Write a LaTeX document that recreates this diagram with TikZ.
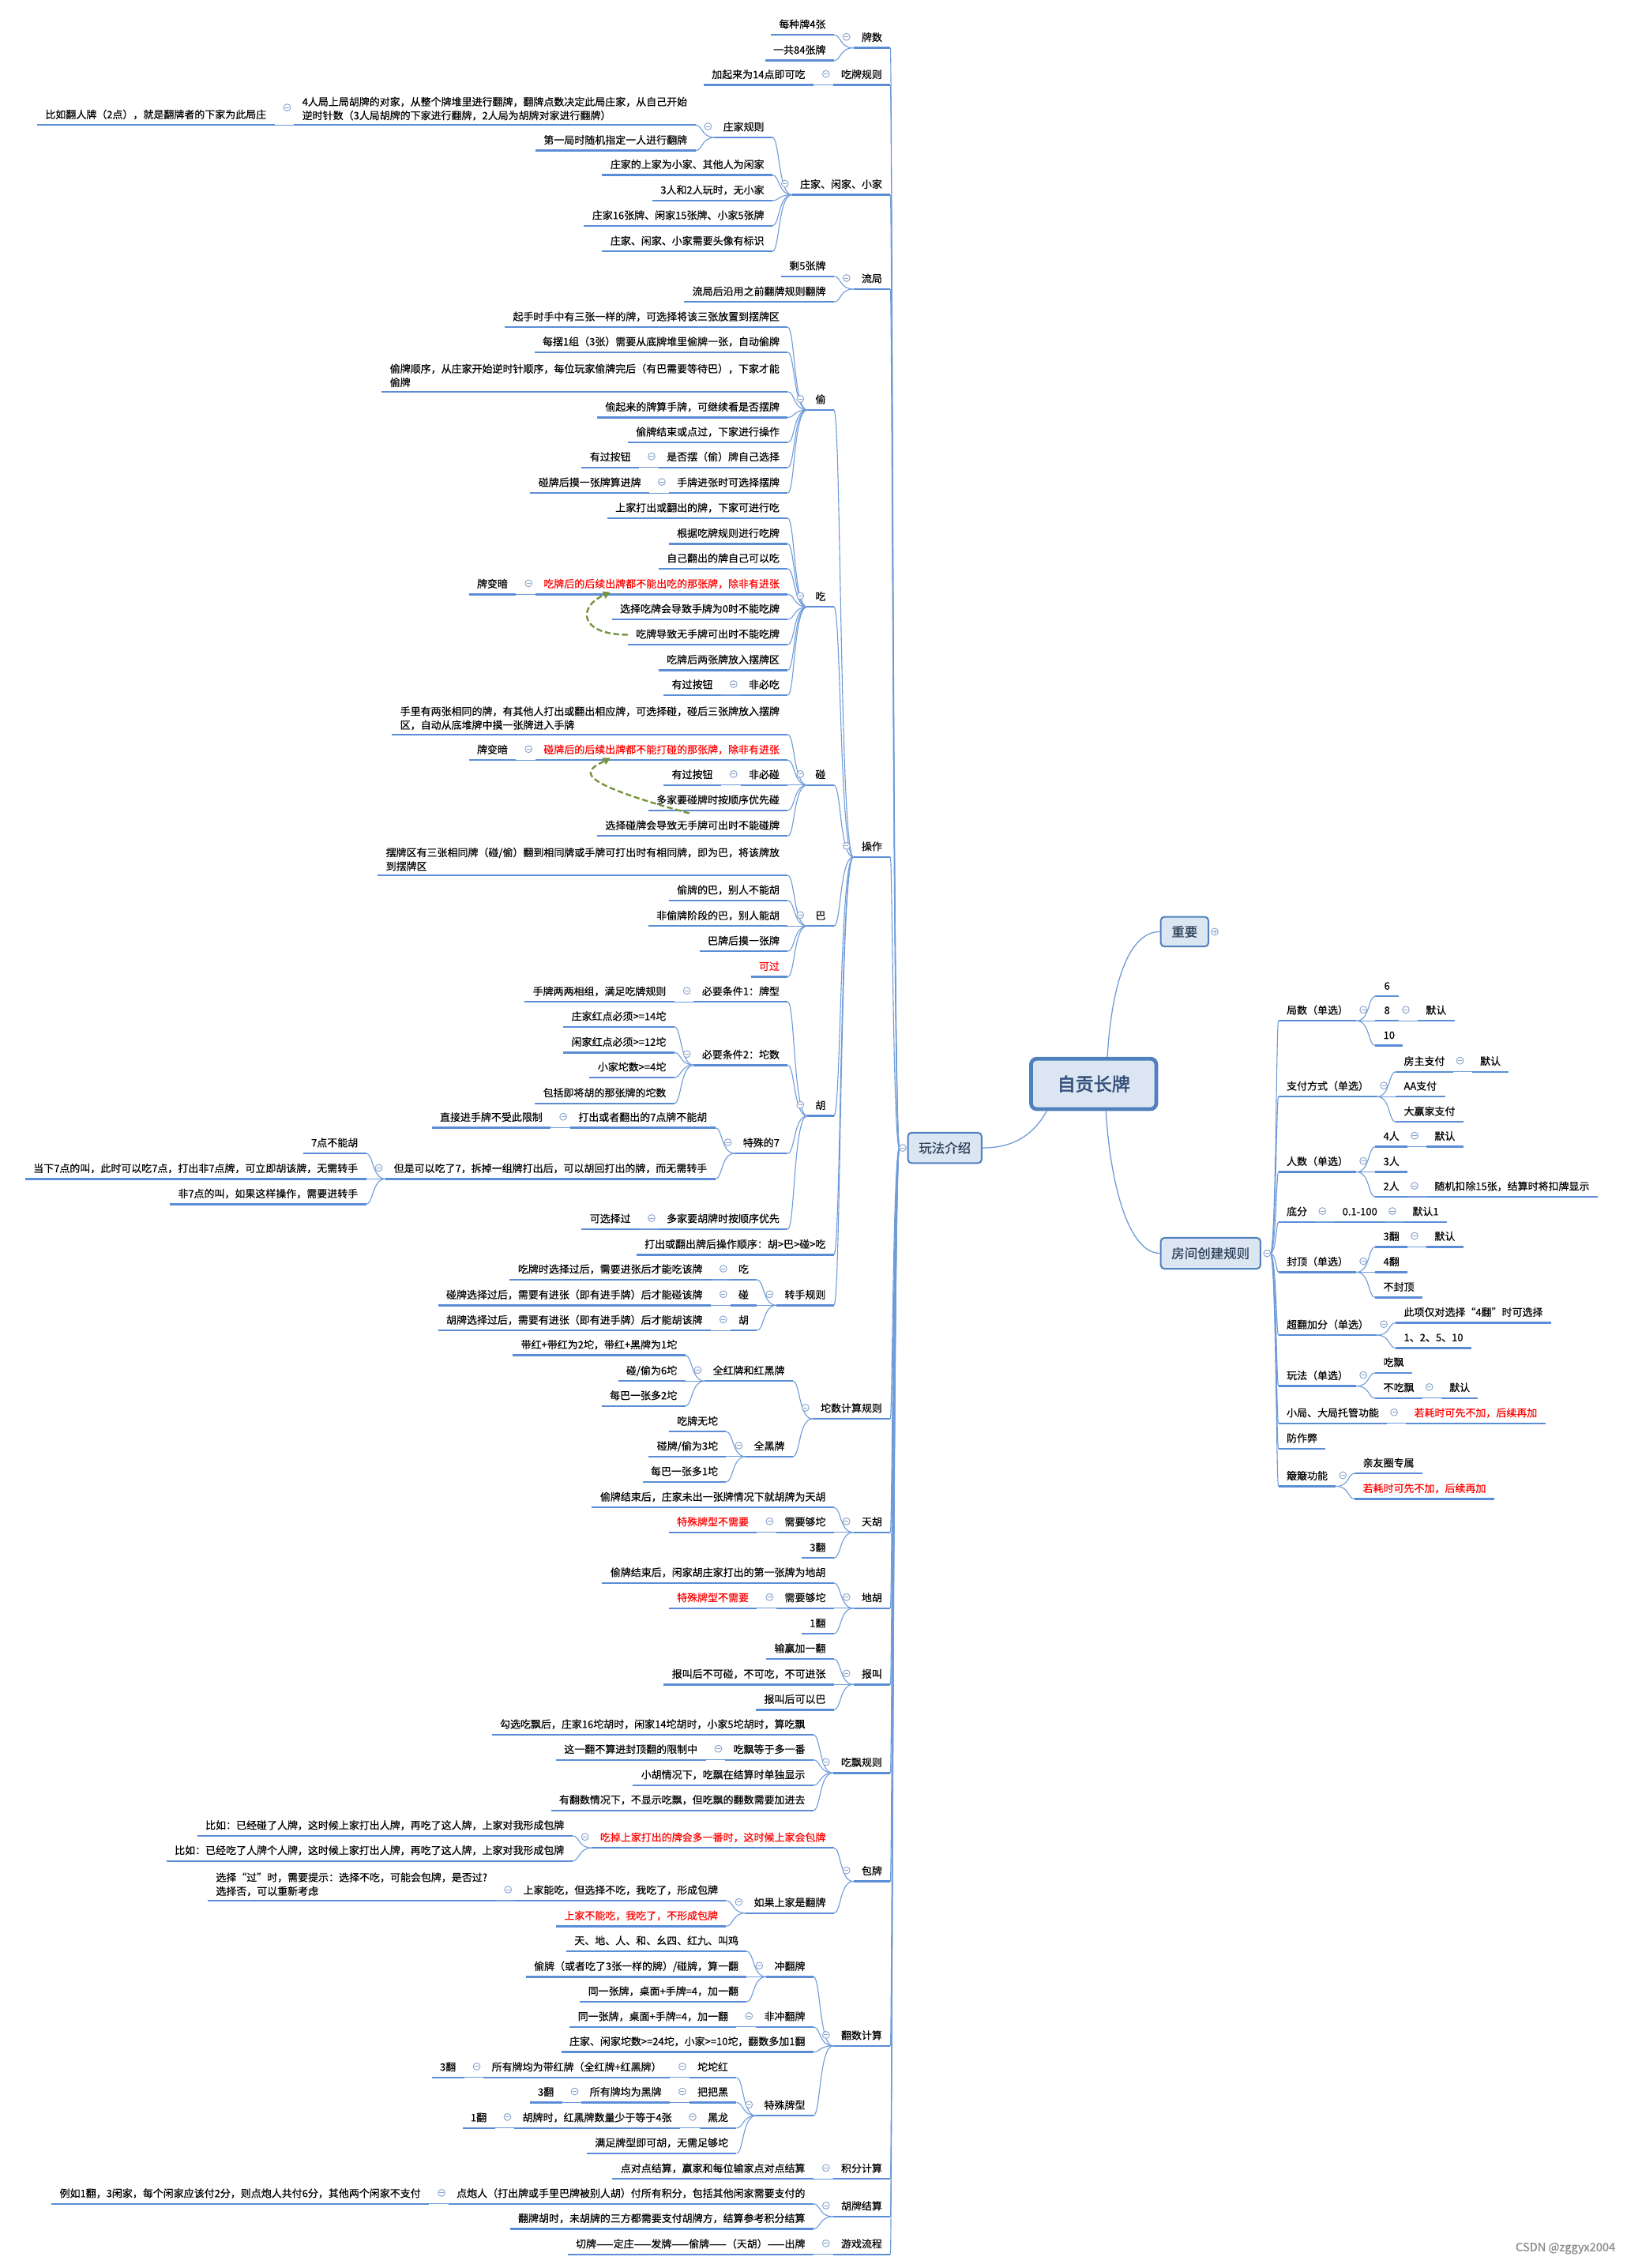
\documentclass[tikz,border=0pt]{standalone}
\usepackage{fontspec}
\setmainfont{Noto Sans CJK SC}[FakeBold=0.35]
\newfontfamily\ttlfont{Noto Sans CJK SC}[FakeBold=2.2]
\usetikzlibrary{calc,arrows.meta}
\definecolor{ulc}{HTML}{5B8DD6}
\definecolor{cnc}{HTML}{6E9BD9}
\definecolor{togc}{HTML}{86A2CC}
\definecolor{boxfill}{HTML}{DCE6F2}
\definecolor{boxline}{HTML}{4F81BD}
\definecolor{boxtext}{HTML}{2B3D57}
\definecolor{ttltext}{HTML}{33507A}
\definecolor{relc}{HTML}{77933C}
\newcommand\fsz{\fontsize{7.1pt}{9.5pt}\selectfont}
\tikzset{
  lf/.style={inner xsep=5.5pt,inner ysep=3pt,text height=5.8pt,text depth=1.5pt,font=\fsz,minimum width=16pt,text=black},
  mlf/.style={inner xsep=5.5pt,inner ysep=3pt,font=\fsz,align=left,text=black},
  rt/.style={text=red},
  ul/.style={draw=ulc,line width=1.3pt},
  conn/.style={draw=cnc,line width=0.6pt},
  tog/.style={circle,draw=togc,fill=white,line width=0.5pt,minimum size=4.8pt,inner sep=0pt,
    path picture={\draw[togc,line width=0.5pt] ([xshift=-1.4pt]path picture bounding box.center) -- ([xshift=1.4pt]path picture bounding box.center);}},
  togp/.style={circle,draw=togc,fill=white,line width=0.5pt,minimum size=4.8pt,inner sep=0pt,
    path picture={\draw[togc,line width=0.5pt] ([xshift=-1.4pt]path picture bounding box.center) -- ([xshift=1.4pt]path picture bounding box.center) ([yshift=-1.4pt]path picture bounding box.center) -- ([yshift=1.4pt]path picture bounding box.center);}},
  bx/.style={draw=boxline,fill=boxfill,line width=1.1pt,rounded corners=2.5pt,font=\fontsize{9pt}{10pt}\selectfont,text=boxtext,inner sep=0pt},
  ttl/.style={draw=boxline,fill=boxfill,line width=2.6pt,rounded corners=4pt,font=\ttlfont\fontsize{12.6pt}{14pt}\selectfont,text=ttltext,inner sep=0pt,minimum width=86.7pt,minimum height=34.9pt},
  rel/.style={draw=relc,line width=1.3pt,dash pattern=on 4pt off 2pt,-{Triangle[length=5pt,width=5pt]}},
}
% left level-1 child of 玩法介绍
\newcommand\mkLT[4][lf]{%
  \node[#1,anchor=south east] (#2) at (616.7,-#3) {#4};
  \draw[ul] (#2.south west) -- (#2.south east);
  \draw[conn] (wfj) .. controls ([xshift=-4.3pt]wfj) and ([xshift=1.3pt]#2.south east) .. (#2.south east);}
% left child
\newcommand\mkL[5][lf]{%
  \path let \p1=(#3.south west) in node[#1,anchor=south east] (#2) at (\x1-13.5pt,-#4pt) {#5};
  \draw[ul] (#2.south west) -- (#2.south east);
  \draw[conn] (#3.south west) .. controls ([xshift=-9.5pt]#3.south west) and ([xshift=5pt]#2.south east) .. (#2.south east);}
% right level-1 child of 房间创建规则
\newcommand\mkRT[4][lf]{%
  \node[#1,anchor=south west] (#2) at (885.5,-#3) {#4};
  \draw[ul] (#2.south west) -- (#2.south east);
  \draw[conn] (rmj) .. controls ([xshift=4pt]rmj) and ([xshift=-1.5pt]#2.south west) .. (#2.south west);}
% right child
\newcommand\mkR[5][lf]{%
  \path let \p1=(#3.south east) in node[#1,anchor=south west] (#2) at (\x1+13pt,-#4pt) {#5};
  \draw[ul] (#2.south west) -- (#2.south east);
  \draw[conn] (#3.south east) .. controls ([xshift=9.5pt]#3.south east) and ([xshift=-5pt]#2.south west) .. (#2.south west);}
\newcommand\tgL[1]{\node[tog] (tg#1) at ([xshift=-4.8pt,yshift=0.8pt]#1.west) {};}
\newcommand\tgR[1]{\node[tog] (tg#1) at ([xshift=4.8pt,yshift=0.8pt]#1.east) {};}

\begin{document}
\begin{tikzpicture}[x=1pt,y=1pt]
\useasboundingbox (0,0) rectangle (1126.9,-1570.6);
\fill[white] (0,0) rectangle (1126.9,-1570.6);

% central nodes
\node[ttl] (root) at (757.5,-750.6) {自贡长牌};
\node[bx,minimum width=33pt,minimum height=20.5pt] (imp) at (820.5,-645.2) {重要};
\node[bx,minimum width=69pt,minimum height=21.4pt] (room) at (838.5,-867.9) {房间创建规则};
\node[bx,minimum width=51pt,minimum height=21.1pt] (wf) at (654.4,-794.9) {玩法介绍};
\draw[conn,line width=0.7pt] ([xshift=9.5pt]root.north) .. controls +(3,50) and +(-22,0) .. (imp.west);
\draw[conn,line width=0.7pt] ([xshift=8.5pt]root.south) .. controls +(3,-50) and +(-22,0) .. (room.west);
\draw[conn,line width=0.7pt] ([xshift=-32.5pt]root.south) .. controls +(-10,-18) and +(20,0) .. (wf.east);
\coordinate (wfj) at ([xshift=-5.4pt]wf.west);
\coordinate (rmj) at ([xshift=6.3pt]room.east);

% ===== left: 玩法介绍 =====
\mkLT{n1}{33.2}{牌数}
\mkLT{n2}{58.9}{吃牌规则}
\mkLT{n3}{134.9}{庄家、闲家、小家}
\mkLT{n4}{200.2}{流局}
\mkLT{n5}{593.5}{操作}
\mkLT{n6}{982.5}{坨数计算规则}
\mkLT{n7}{1061.2}{天胡}
\mkLT{n8}{1113.7}{地胡}
\mkLT{n9}{1166.5}{报叫}
\mkLT{n10}{1227.8}{吃飘规则}
\mkLT{n11}{1302.9}{包牌}
\mkLT{n12}{1416.8}{翻数计算}
\mkLT{n13}{1508.9}{积分计算}
\mkLT{n14}{1535}{胡牌结算}
\mkLT{n15}{1561.2}{游戏流程}

\mkL{a1}{n1}{24.1}{每种牌4张}
\mkL{a2}{n1}{41.9}{一共84张牌}
\mkL{b1}{n2}{58.9}{加起来为14点即可吃}
\mkL{c1}{n3}{95.2}{庄家规则}
\mkL[mlf]{c1a}{c1}{86.6}{4人局上局胡牌的对家，从整个牌堆里进行翻牌，翻牌点数决定此局庄家，从自己开始\\逆时针数（3人局胡牌的下家进行翻牌，2人局为胡牌对家进行翻牌）}
\mkL{c1a1}{c1a}{86.6}{比如翻人牌（2点），就是翻牌者的下家为此局庄}
\mkL{c1b}{c1}{104.3}{第一局时随机指定一人进行翻牌}
\mkL{c2}{n3}{121.2}{庄家的上家为小家、其他人为闲家}
\mkL{c3}{n3}{138.9}{3人和2人玩时，无小家}
\mkL{c4}{n3}{156.4}{庄家16张牌、闲家15张牌、小家5张牌}
\mkL{c5}{n3}{174.1}{庄家、闲家、小家需要头像有标识}
\mkL{d1}{n4}{191.4}{剩5张牌}
\mkL{d2}{n4}{209.1}{流局后沿用之前翻牌规则翻牌}

\mkL{e1}{n5}{283.9}{偷}
\mkL{e1a}{e1}{226.6}{起手时手中有三张一样的牌，可选择将该三张放置到摆牌区}
\mkL{e1b}{e1}{243.9}{每摆1组（3张）需要从底牌堆里偷牌一张，自动偷牌}
\mkL[mlf]{e1c}{e1}{271.3}{偷牌顺序，从庄家开始逆时针顺序，每位玩家偷牌完后（有巴需要等待巴），下家才能\\偷牌}
\mkL{e1d}{e1}{289.1}{偷起来的牌算手牌，可继续看是否摆牌}
\mkL{e1e}{e1}{306.4}{偷牌结束或点过，下家进行操作}
\mkL{e1f}{e1}{323.7}{是否摆（偷）牌自己选择}
\mkL{e1f1}{e1f}{323.7}{有过按钮}
\mkL{e1g}{e1}{341.4}{手牌进张时可选择摆牌}
\mkL{e1g1}{e1g}{341.4}{碰牌后摸一张牌算进牌}

\mkL{e2}{n5}{420.3}{吃}
\mkL{e2a}{e2}{358.9}{上家打出或翻出的牌，下家可进行吃}
\mkL{e2b}{e2}{376.6}{根据吃牌规则进行吃牌}
\mkL{e2c}{e2}{393.9}{自己翻出的牌自己可以吃}
\mkL[lf,rt]{e2d}{e2}{411.6}{吃牌后的后续出牌都不能出吃的那张牌，除非有进张}
\mkL{e2d1}{e2d}{411.6}{牌变暗}
\mkL{e2e}{e2}{428.9}{选择吃牌会导致手牌为0时不能吃牌}
\mkL{e2f}{e2}{446.4}{吃牌导致无手牌可出时不能吃牌}
\mkL{e2g}{e2}{464.1}{吃牌后两张牌放入摆牌区}
\mkL{e2h}{e2}{481.4}{非必吃}
\mkL{e2h1}{e2h}{481.4}{有过按钮}

\mkL{e3}{n5}{543.7}{碰}
\mkL[mlf]{e3a}{e3}{508.7}{手里有两张相同的牌，有其他人打出或翻出相应牌，可选择碰，碰后三张牌放入摆牌\\区，自动从底堆牌中摸一张牌进入手牌}
\mkL[lf,rt]{e3b}{e3}{526.4}{碰牌后的后续出牌都不能打碰的那张牌，除非有进张}
\mkL{e3b1}{e3b}{526.4}{牌变暗}
\mkL{e3c}{e3}{543.7}{非必碰}
\mkL{e3c1}{e3c}{543.7}{有过按钮}
\mkL{e3d}{e3}{561.2}{多家要碰牌时按顺序优先碰}
\mkL{e3e}{e3}{578.9}{选择碰牌会导致无手牌可出时不能碰牌}

\mkL{e4}{n5}{641.3}{巴}
\mkL[mlf]{e4a}{e4}{606.3}{摆牌区有三张相同牌（碰/偷）翻到相同牌或手牌可打出时有相同牌，即为巴，将该牌放\\到摆牌区}
\mkL{e4b}{e4}{623.6}{偷牌的巴，别人不能胡}
\mkL{e4c}{e4}{641.3}{非偷牌阶段的巴，别人能胡}
\mkL{e4d}{e4}{658.8}{巴牌后摸一张牌}
\mkL[lf,rt]{e4e}{e4}{676.5}{可过}

\mkL{e5}{n5}{772.8}{胡}
\mkL{e5a}{e5}{693.8}{必要条件1：牌型}
\mkL{e5a1}{e5a}{693.8}{手牌两两相组，满足吃牌规则}
\mkL{e5b}{e5}{737.6}{必要条件2：坨数}
\mkL{e5b1}{e5b}{711.1}{庄家红点必须>=14坨}
\mkL{e5b2}{e5b}{728.9}{闲家红点必须>=12坨}
\mkL{e5b3}{e5b}{746.2}{小家坨数>=4坨}
\mkL{e5b4}{e5b}{764.1}{包括即将胡的那张牌的坨数}
\mkL{e5c}{e5}{798.7}{特殊的7}
\mkL{e5c1}{e5c}{781}{打出或者翻出的7点牌不能胡}
\mkL{e5c1a}{e5c1}{781}{直接进手牌不受此限制}
\mkL{e5c2}{e5c}{816.4}{但是可以吃了7，拆掉一组牌打出后，可以胡回打出的牌，而无需转手}
\mkL{e5c2a}{e5c2}{798.7}{7点不能胡}
\mkL{e5c2b}{e5c2}{816.4}{当下7点的叫，此时可以吃7点，打出非7点牌，可立即胡该牌，无需转手}
\mkL{e5c2c}{e5c2}{833.9}{非7点的叫，如果这样操作，需要进转手}
\mkL{e5d}{e5}{851.2}{多家要胡牌时按顺序优先}
\mkL{e5d1}{e5d}{851.2}{可选择过}

\mkL{e6}{n5}{868.9}{打出或翻出牌后操作顺序：胡>巴>碰>吃}
\mkL{e7}{n5}{903.9}{转手规则}
\mkL{e7a}{e7}{886.2}{吃}
\mkL{e7a1}{e7a}{886.2}{吃牌时选择过后，需要进张后才能吃该牌}
\mkL{e7b}{e7}{903.9}{碰}
\mkL{e7b1}{e7b}{903.9}{碰牌选择过后，需要有进张（即有进手牌）后才能碰该牌}
\mkL{e7c}{e7}{921.4}{胡}
\mkL{e7c1}{e7c}{921.4}{胡牌选择过后，需要有进张（即有进手牌）后才能胡该牌}

\mkL{f1}{n6}{956.4}{全红牌和红黑牌}
\mkL{f1a}{f1}{938.5}{带红+带红为2坨，带红+黑牌为1坨}
\mkL{f1b}{f1}{956.4}{碰/偷为6坨}
\mkL{f1c}{f1}{973.7}{每巴一张多2坨}
\mkL{f2}{n6}{1008.7}{全黑牌}
\mkL{f2a}{f2}{991.4}{吃牌无坨}
\mkL{f2b}{f2}{1008.7}{碰牌/偷为3坨}
\mkL{f2c}{f2}{1026.2}{每巴一张多1坨}

\mkL{g1}{n7}{1043.9}{偷牌结束后，庄家未出一张牌情况下就胡牌为天胡}
\mkL{g2}{n7}{1061.2}{需要够坨}
\mkL[lf,rt]{g2a}{g2}{1061.2}{特殊牌型不需要}
\mkL{g3}{n7}{1078.9}{3翻}
\mkL{h1}{n8}{1096.2}{偷牌结束后，闲家胡庄家打出的第一张牌为地胡}
\mkL{h2}{n8}{1113.7}{需要够坨}
\mkL[lf,rt]{h2a}{h2}{1113.7}{特殊牌型不需要}
\mkL{h3}{n8}{1131.4}{1翻}
\mkL{i1}{n9}{1148.8}{输赢加一翻}
\mkL{i2}{n9}{1166.5}{报叫后不可碰，不可吃，不可进张}
\mkL{i3}{n9}{1184}{报叫后可以巴}
\mkL{j1}{n10}{1201.3}{勾选吃飘后，庄家16坨胡时，闲家14坨胡时，小家5坨胡时，算吃飘}
\mkL{j2}{n10}{1218.7}{吃飘等于多一番}
\mkL{j2a}{j2}{1218.7}{这一翻不算进封顶翻的限制中}
\mkL{j3}{n10}{1236.3}{小胡情况下，吃飘在结算时单独显示}
\mkL{j4}{n10}{1253.7}{有翻数情况下，不显示吃飘，但吃飘的翻数需要加进去}
\mkL[lf,rt]{k1}{n11}{1279.7}{吃掉上家打出的牌会多一番时，这时候上家会包牌}
\mkL{k1a}{k1}{1271.3}{比如：已经碰了人牌，这时候上家打出人牌，再吃了这人牌，上家对我形成包牌}
\mkL{k1b}{k1}{1288.7}{比如：已经吃了人牌个人牌，这时候上家打出人牌，再吃了这人牌，上家对我形成包牌}
\mkL{k2}{n11}{1324.8}{如果上家是翻牌}
\mkL{k2a}{k2}{1316.2}{上家能吃，但选择不吃，我吃了，形成包牌}
\mkL[mlf]{k2a1}{k2a}{1316.2}{选择“过”时，需要提示：选择不吃，可能会包牌，是否过?\\选择否，可以重新考虑}
\mkL[lf,rt]{k2b}{k2}{1333.9}{上家不能吃，我吃了，不形成包牌}

\mkL{l1}{n12}{1368.9}{冲翻牌}
\mkL{l1a}{l1}{1351.2}{天、地、人、和、幺四、红九、叫鸡}
\mkL{l1b}{l1}{1368.9}{偷牌（或者吃了3张一样的牌）/碰牌，算一翻}
\mkL{l1c}{l1}{1386.2}{同一张牌，桌面+手牌=4，加一翻}
\mkL{l2}{n12}{1403.7}{非冲翻牌}
\mkL{l2a}{l2}{1403.7}{同一张牌，桌面+手牌=4，加一翻}
\mkL{l3}{n12}{1421}{庄家、闲家坨数>=24坨，小家>=10坨，翻数多加1翻}
\mkL{l4}{n12}{1465.1}{特殊牌型}
\mkL{l4a}{l4}{1438.7}{坨坨红}
\mkL{l4a1}{l4a}{1438.7}{所有牌均为带红牌（全红牌+红黑牌）}
\mkL{l4a2}{l4a1}{1438.7}{3翻}
\mkL{l4b}{l4}{1456}{把把黑}
\mkL{l4b1}{l4b}{1456}{所有牌均为黑牌}
\mkL{l4b2}{l4b1}{1456}{3翻}
\mkL{l4c}{l4}{1473.7}{黑龙}
\mkL{l4c1}{l4c}{1473.7}{胡牌时，红黑牌数量少于等于4张}
\mkL{l4c2}{l4c1}{1473.7}{1翻}
\mkL{l4d}{l4}{1491.2}{满足牌型即可胡，无需足够坨}
\mkL{m1}{n13}{1508.9}{点对点结算，赢家和每位输家点对点结算}
\mkL{o1}{n14}{1526.2}{点炮人（打出牌或手里巴牌被别人胡）付所有积分，包括其他闲家需要支付的}
\mkL{o1a}{o1}{1526.2}{例如1翻，3闲家，每个闲家应该付2分，则点炮人共付6分，其他两个闲家不支付}
\mkL{o2}{n14}{1543.5}{翻牌胡时，未胡牌的三方都需要支付胡牌方，结算参考积分结算}
\mkL{p1}{n15}{1561.2}{切牌——定庄——发牌——偷牌——（天胡）——出牌}

% ===== right: 房间创建规则 =====
\mkRT{r1}{706.9}{局数（单选）}
\mkR{r1a}{r1}{690}{6}
\mkR{r1b}{r1}{706.9}{8}
\mkR{r1b1}{r1b}{706.9}{默认}
\mkR{r1c}{r1}{724.1}{10}
\mkRT{r2}{759.4}{支付方式（单选）}
\mkR{r2a}{r2}{742.2}{房主支付}
\mkR{r2a1}{r2a}{742.2}{默认}
\mkR{r2b}{r2}{759.4}{AA支付}
\mkR{r2c}{r2}{776.9}{大赢家支付}
\mkRT{r3}{811.6}{人数（单选）}
\mkR{r3a}{r3}{794.1}{4人}
\mkR{r3a1}{r3a}{794.1}{默认}
\mkR{r3b}{r3}{811.6}{3人}
\mkR{r3c}{r3}{828.8}{2人}
\mkR{r3c1}{r3c}{828.8}{随机扣除15张，结算时将扣牌显示}
\mkRT{r4}{846.3}{底分}
\mkR{r4a}{r4}{846.3}{0.1-100}
\mkR{r4a1}{r4a}{846.3}{默认1}
\mkRT{r5}{881}{封顶（单选）}
\mkR{r5a}{r5}{863.5}{3翻}
\mkR{r5a1}{r5a}{863.5}{默认}
\mkR{r5b}{r5}{881}{4翻}
\mkR{r5c}{r5}{898.5}{不封顶}
\mkRT{r6}{924.6}{超翻加分（单选）}
\mkR{r6a}{r6}{916}{此项仅对选择“4翻”时可选择}
\mkR{r6b}{r6}{933.5}{1、2、5、10}
\mkRT{r7}{959.9}{玩法（单选）}
\mkR{r7a}{r7}{950.7}{吃飘}
\mkR{r7b}{r7}{968.2}{不吃飘}
\mkR{r7b1}{r7b}{968.2}{默认}
\mkRT{r8}{985.7}{小局、大局托管功能}
\mkR[lf,rt]{r8a}{r8}{985.7}{若耗时可先不加，后续再加}
\mkRT{r9}{1003.2}{防作弊}
\mkRT{r10}{1029.3}{簸簸功能}
\mkR{r10a}{r10}{1020.4}{亲友圈专属}
\mkR[lf,rt]{r10b}{r10}{1038}{若耗时可先不加，后续再加}

% relationship arrows
\draw[rel] (e2f.west) .. controls +(-34,0) and +(-23,-10) .. ([xshift=52pt,yshift=1.5pt]e2d.south west);
\draw[rel] ([xshift=28.4pt,yshift=-2pt]e3d.south west) .. controls +(-84,23) and +(-18,-9) .. ([xshift=52pt,yshift=1.5pt]e3b.south west);

% toggles
\node[tog] (tgwf) at ([xshift=-3.1pt]wf.west) {};
\node[tog] (tgroom) at ([xshift=4.1pt]room.east) {};
\node[togp] (tgimp) at ([xshift=3.8pt]imp.east) {};
\foreach \nm in {n1,n2,n3,n4,n5,n6,n7,n8,n9,n10,n11,n12,n13,n14,n15,c1,c1a,e1,e1f,e1g,e2,e2d,e2h,e3,e3b,e3c,e4,e5,e5a,e5b,e5c,e5c1,e5c2,e5d,e7,e7a,e7b,e7c,f1,f2,g2,h2,j2,k1,k2,k2a,l1,l2,l4,l4a,l4a1,l4b,l4b1,l4c,l4c1,o1}{\tgL{\nm}}
\foreach \nm in {r1,r1b,r2,r2a,r3,r3a,r3c,r4,r4a,r5,r5a,r6,r7,r7b,r8,r10}{\tgR{\nm}}

\node[anchor=east,inner sep=0pt,font=\fontsize{8pt}{9pt}\selectfont,text=black!45] (wm) at (1119,-1557) {CSDN @zggyx2004};
\end{tikzpicture}
\end{document}
